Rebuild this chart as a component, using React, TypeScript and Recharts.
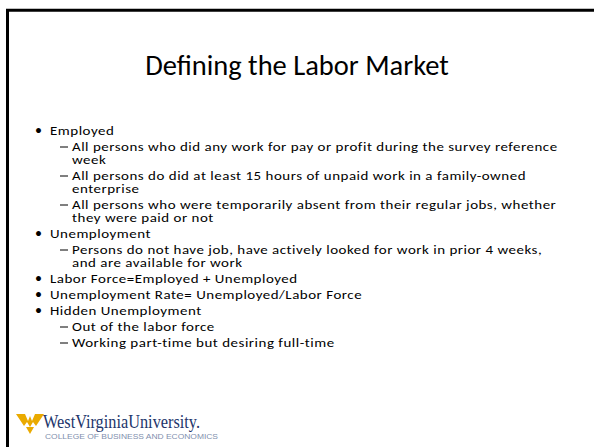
import { ScatterChart, Scatter, XAxis, YAxis, ReferenceLine } from 'recharts';

const titleText = 'Defining the Labor Market';

const lineTexts = [
  'Employed',
  'All persons who did any work for pay or profit during the survey reference',
  'week',
  'All persons do did at least 15 hours of unpaid work in a family-owned',
  'enterprise',
  'All persons who were temporarily absent from their regular jobs, whether',
  'they were paid or not',
  'Unemployment',
  'Persons do not have job, have actively looked for work in prior 4 weeks,',
  'and are available for work',
  'Labor Force=Employed + Unemployed',
  'Unemployment Rate= Unemployed/Labor Force',
  'Hidden Unemployment',
  'Out of the labor force',
  'Working part-time but desiring full-time',
];
const lineLevels = [1, 2, 2, 2, 2, 2, 2, 1, 2, 2, 1, 1, 1, 2, 2];
const lineStartsItem = [true, true, false, true, false, true, false, true, true, false, true, true, true, true, true];

const logoName = 'WestVirginiaUniversity.';
const logoCollege = 'COLLEGE OF BUSINESS AND ECONOMICS';

const W = 594;
const H = 447;
const FONT = 'Carlito, Calibri, Lato, sans-serif';
const BODY_SIZE = 13;
const BODY_STRETCH = 1.15;
const BODY_SPACING = 0.45;

// layout constants (px)
const FIRST_BASELINE = 135;
const ITEM_GAP = 16;
const WRAP_GAP = 13;
const TEXT_X: Record<number, number> = { 1: 50, 2: 72 };

function buildLines() {
  let y = FIRST_BASELINE;
  return lineTexts.map((text, i) => {
    if (i > 0) y += lineStartsItem[i] ? ITEM_GAP : WRAP_GAP;
    return { x: TEXT_X[lineLevels[i]], y, text, level: lineLevels[i], marker: lineStartsItem[i] };
  });
}

const lines = buildLines();
const titleData = [{ x: W / 2, y: 75, text: titleText }];
const logoData = [{ x: 16, y: 413 }];

const LineShape = (props: any) => {
  const { cx, cy, payload } = props;
  const lvl = payload.level;
  return (
    <g>
      {payload.marker && lvl === 1 && (
        <text x={cx - 15} y={cy} fontFamily={FONT} fontSize={BODY_SIZE + 1} fill="#000">•</text>
      )}
      {payload.marker && lvl === 2 && (
        <line x1={cx - 12} x2={cx - 4} y1={cy - 4} y2={cy - 4} stroke="#000" strokeWidth={1} />
      )}
      <text
        transform={`translate(${cx},${cy}) scale(${BODY_STRETCH},1)`}
        fontFamily={FONT}
        fontSize={BODY_SIZE}
        letterSpacing={BODY_SPACING}
        fill="#000"
      >
        {payload.text}
      </text>
    </g>
  );
};

const TitleShape = (props: any) => {
  const { cx, cy, payload } = props;
  return (
    <text x={cx} y={cy} textAnchor="middle" fontFamily={FONT} fontSize={28.5} fill="#000">
      {payload.text}
    </text>
  );
};

const LogoShape = (props: any) => {
  const { cx, cy } = props;
  return (
    <g transform={`translate(${cx},${cy})`}>
      <path d="M0,1 L9,1 L12,8 L14,3 L16,8 L19,1 L28,1 L20,13 L17,9 L14,14 L11,9 L8,13 Z" fill="#EAAA00" />
      <path d="M10,14 L18,14 L14,21 Z" fill="#EAAA00" />
      <text x={27} y={15} fontFamily="'Liberation Serif', serif" fontSize={19} fill="#22356b" textLength={157} lengthAdjust="spacingAndGlyphs">
        {logoName}
      </text>
      <text x={29} y={26} fontFamily="'Liberation Sans', sans-serif" fontSize={6.5} fill="#7f8fae" textLength={173} lengthAdjust="spacingAndGlyphs">
        {logoCollege}
      </text>
    </g>
  );
};

export default function App() {
  return (
    <div style={{ position: 'absolute', left: 0, top: 0, width: W, height: H, background: '#fff' }}>
      <ScatterChart width={W} height={H} margin={{ top: 0, right: 0, bottom: 0, left: 0 }}>
        <XAxis type="number" dataKey="x" domain={[0, W]} hide />
        <YAxis type="number" dataKey="y" domain={[0, H]} reversed hide />
        <ReferenceLine segment={[{ x: 6, y: 10.3 }, { x: W, y: 10.3 }]} stroke="#000" strokeWidth={3} />
        <ReferenceLine segment={[{ x: 7.5, y: 9 }, { x: 7.5, y: H }]} stroke="#000" strokeWidth={3} />
        <Scatter data={titleData} shape={TitleShape} isAnimationActive={false} />
        <Scatter data={lines} shape={LineShape} isAnimationActive={false} />
        <Scatter data={logoData} shape={LogoShape} isAnimationActive={false} />
      </ScatterChart>
    </div>
  );
}
